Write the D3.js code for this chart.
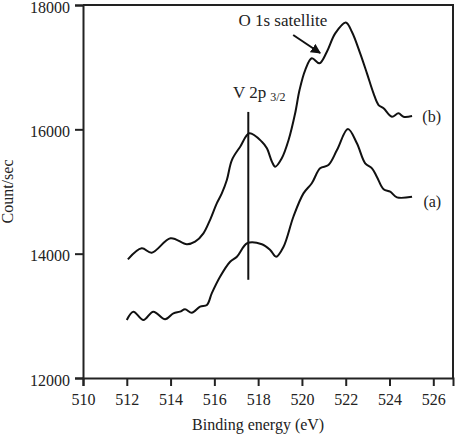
<!DOCTYPE html>
<html>
<head>
<meta charset="utf-8">
<script src="https://cdn.jsdelivr.net/npm/d3@7"></script>
<style>
  html, body { margin: 0; padding: 0; background: #fff; }
  svg { display: block; }
  text { font-family: "Liberation Serif", "DejaVu Serif", Times, serif; fill: #222; }
</style>
</head>
<body>
<svg id="chart" width="457" height="436"></svg>
<script>
// ── data ────────────────────────────────────────────
const xTicks = [510, 512, 514, 516, 518, 520, 522, 524, 526];
const yTicks = [12000, 14000, 16000, 18000];

// curve (b)
const energyB = [512.05, 512.68, 513.14, 514.0, 514.74, 515.12, 515.5, 515.8, 516.11, 516.34,
  516.57, 516.8, 517.18, 517.6, 518.17, 518.4, 518.63, 518.78, 519.08, 519.39,
  519.69, 519.89, 520.15, 520.45, 520.8, 521.14, 521.52, 522.0, 522.28, 522.66,
  522.97, 523.27, 523.5, 523.73, 524.11, 524.41, 524.64, 525.03];
const countB = [13909, 14086, 14016, 14247, 14151, 14192, 14327, 14541, 14810, 14970,
  15185, 15506, 15721, 15936, 15801, 15694, 15479, 15399, 15534, 15828,
  16258, 16632, 16954, 17142, 17062, 17249, 17544, 17720, 17571, 17223,
  16901, 16579, 16391, 16338, 16203, 16258, 16203, 16214];

// curve (a)
const energyA = [512.0, 512.3, 512.76, 513.21, 513.75, 514.13, 514.43, 514.66, 514.97, 515.35,
  515.66, 515.88, 516.26, 516.72, 517.03, 517.5, 518.17, 518.55, 518.82, 519.16,
  519.61, 520.07, 520.45, 520.83, 521.21, 521.6, 522.1, 522.51, 522.89, 523.2,
  523.42, 523.73, 524.03, 524.34, 525.03];
const countA = [12933, 13067, 12933, 13067, 12944, 13041, 13067, 13105, 13051, 13148,
  13174, 13362, 13630, 13871, 13951, 14167, 14151, 14059, 13951, 14112,
  14594, 14970, 15132, 15373, 15426, 15667, 16005, 15775, 15453, 15373,
  15238, 15035, 14997, 14906, 14916];

// V 2p3/2 marker
const markerEnergy = 517.55;
const markerRange = [13580, 16280];

// ── layout ──────────────────────────────────────────
const FONT = '"Liberation Serif", "DejaVu Serif", Times, serif';
const margin = { top: 5, right: 4, bottom: 58, left: 83 };
const W = 457, H = 436;
const w = W - margin.left - margin.right;
const h = H - margin.top - margin.bottom;

const svg = d3.select('#chart');
const g = svg.append('g').attr('transform', `translate(${margin.left},${margin.top})`);

const x = d3.scaleLinear().domain([510, 526.9]).range([0, w]);
const y = d3.scaleLinear().domain([12000, 18000]).range([h, 0]);

// frame (top + right)
g.append('path')
  .attr('d', `M0,0H${w}V${h}`)
  .attr('fill', 'none')
  .attr('stroke', '#222')
  .attr('stroke-width', 2);

// axes
const xAxis = g.append('g')
  .attr('transform', `translate(0,${h})`)
  .call(d3.axisBottom(x).tickValues(xTicks).tickSize(8).tickPadding(8).tickFormat(d3.format('d')));
const yAxis = g.append('g')
  .call(d3.axisLeft(y).tickValues(yTicks).tickSize(8).tickPadding(5).tickFormat(d3.format('d')));

[xAxis, yAxis].forEach(a => {
  a.attr('font-family', FONT);
  a.select('.domain').attr('stroke', '#222').attr('stroke-width', 2);
  a.selectAll('.tick line').attr('stroke', '#222').attr('stroke-width', 2);
  a.selectAll('.tick text')
    .attr('font-family', FONT)
    .attr('font-size', 16)
    .attr('fill', '#222');
});
yAxis.selectAll('.tick text').attr('dy', '0.45em');

// axis titles
g.append('text')
  .attr('x', x(518)).attr('y', h + 52)
  .attr('text-anchor', 'middle')
  .attr('font-family', FONT)
  .attr('font-size', 16)
  .text('Binding energy (eV)');

g.append('text')
  .attr('transform', `translate(${-70},${h / 2}) rotate(-90)`)
  .attr('text-anchor', 'middle')
  .attr('font-family', FONT)
  .attr('font-size', 16)
  .text('Count/sec');

// curves
const line = d3.line()
  .x(d => x(d[0]))
  .y(d => y(d[1]))
  .curve(d3.curveCatmullRom.alpha(0.5));

[[energyB, countB], [energyA, countA]].forEach(([ex, cy]) => {
  g.append('path')
    .datum(d3.zip(ex, cy))
    .attr('d', line)
    .attr('fill', 'none')
    .attr('stroke', '#111')
    .attr('stroke-width', 2);
});

// vertical marker line
g.append('line')
  .attr('x1', x(markerEnergy)).attr('x2', x(markerEnergy))
  .attr('y1', y(markerRange[0])).attr('y2', y(markerRange[1]))
  .attr('stroke', '#111')
  .attr('stroke-width', 2);

// labels
const vLab = g.append('text')
  .attr('x', x(516.85)).attr('y', 93)
  .attr('font-family', FONT)
  .attr('font-size', 17);
vLab.append('tspan').text('V 2p');
vLab.append('tspan').attr('dx', 4).attr('dy', 3).attr('font-size', 12).text('3/2');

g.append('text')
  .attr('x', x(517.1)).attr('y', 21)
  .attr('font-family', FONT)
  .attr('font-size', 17)
  .text('O 1s satellite');

g.append('text')
  .attr('x', x(525.5)).attr('y', 117)
  .attr('font-family', FONT)
  .attr('font-size', 16)
  .text('(b)');
g.append('text')
  .attr('x', x(525.55)).attr('y', 202)
  .attr('font-family', FONT)
  .attr('font-size', 16)
  .text('(a)');

// arrow
svg.append('defs').append('marker')
  .attr('id', 'arr')
  .attr('viewBox', '0 -5 10 10')
  .attr('refX', 9).attr('refY', 0)
  .attr('markerWidth', 5).attr('markerHeight', 5)
  .attr('orient', 'auto')
  .append('path').attr('d', 'M0,-5L10,0L0,5Z').attr('fill', '#111');

g.append('line')
  .attr('x1', x(519.6)).attr('y1', y(17517))
  .attr('x2', x(520.83)).attr('y2', y(17228))
  .attr('stroke', '#111')
  .attr('stroke-width', 2)
  .attr('marker-end', 'url(#arr)');
</script>
</body>
</html>
